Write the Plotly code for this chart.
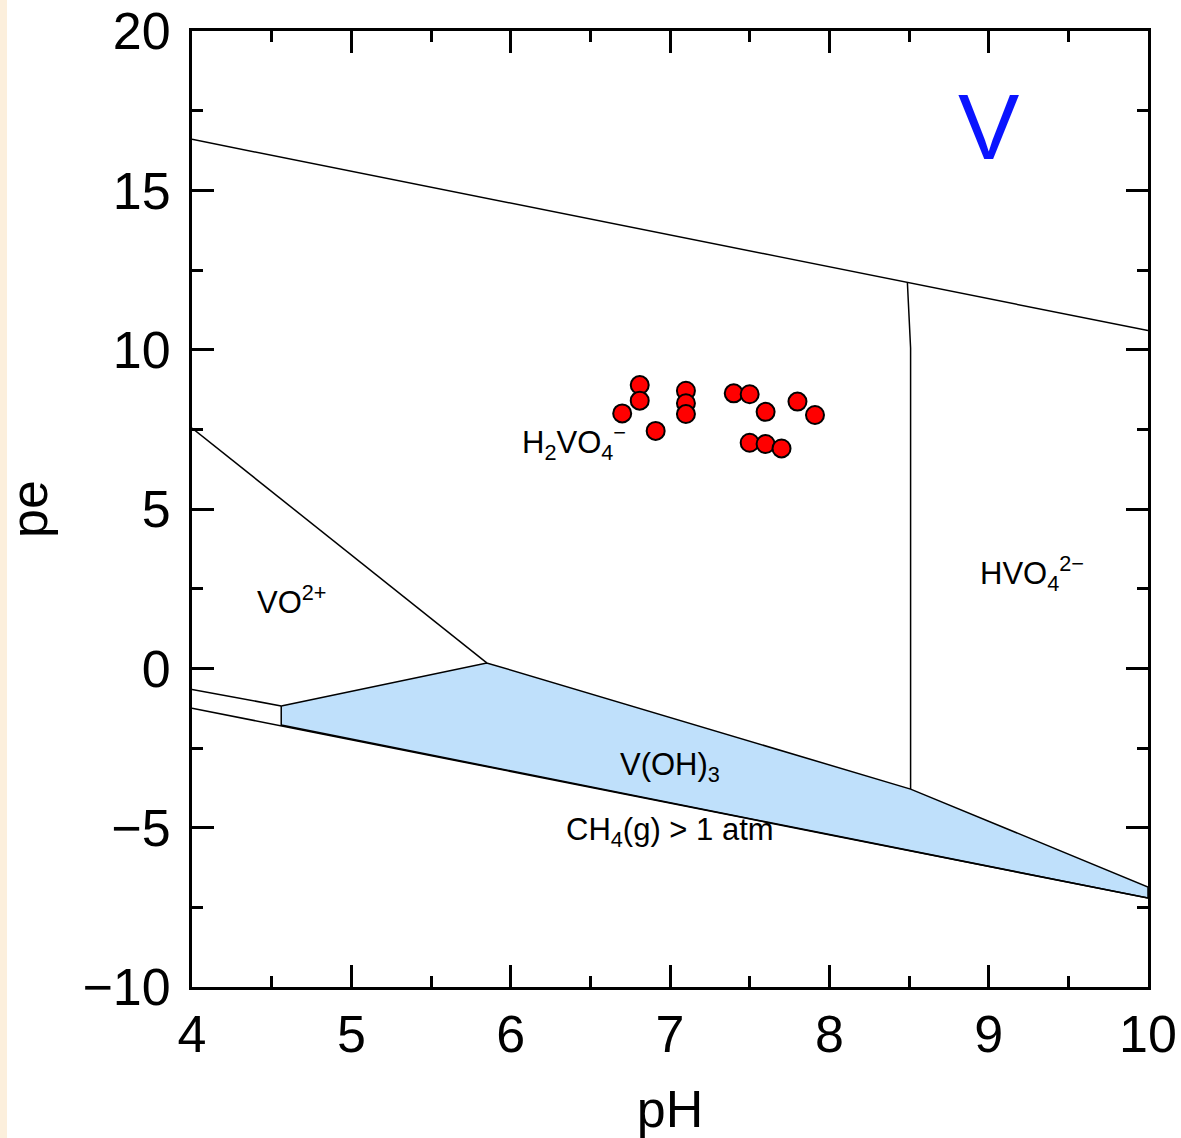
import plotly.graph_objects as go

# Sample measurements (pH, pe)
sample_ph = [6.81, 6.81, 6.70, 6.91, 7.10, 7.10, 7.10, 7.40, 7.50, 7.60, 7.80, 7.91, 7.50, 7.60, 7.70]
sample_pe = [8.89, 8.40, 8.00, 7.45, 8.71, 8.32, 7.98, 8.63, 8.60, 8.05, 8.37, 7.95, 7.08, 7.04, 6.90]

# Water stability limits
o2_ph = [4.0, 10.0]
o2_pe = [16.6, 10.6]
h2_ph = [4.0, 10.0]
h2_pe = [-1.25, -7.21]

# Species boundaries
vo2_ph = [4.0, 5.85]
vo2_pe = [7.54, 0.17]
hvo4_ph = [8.49, 8.51, 8.51]
hvo4_pe = [12.09, 10.05, -3.79]
left_ph = [4.0, 4.56]
left_pe = [-0.66, -1.18]

# V(OH)3 stability field
voh3_ph = [4.56, 5.85, 8.51, 10.0, 10.0, 4.56, 4.56]
voh3_pe = [-1.18, 0.17, -3.79, -6.86, -7.21, -1.78, -1.18]

FONT = "Liberation Sans, Arial, Helvetica, sans-serif"
line_style = dict(color="black", width=1.5)

fig = go.Figure()

fig.add_trace(go.Scatter(x=voh3_ph, y=voh3_pe, mode="lines", fill="toself",
                         fillcolor="#bfe0fb", line=line_style, hoverinfo="skip"))
for xs, ys in [(o2_ph, o2_pe), (h2_ph, h2_pe), (vo2_ph, vo2_pe),
               (hvo4_ph, hvo4_pe), (left_ph, left_pe)]:
    fig.add_trace(go.Scatter(x=xs, y=ys, mode="lines", line=line_style, hoverinfo="skip"))

fig.add_trace(go.Scatter(x=sample_ph, y=sample_pe, mode="markers",
                         marker=dict(size=18, color="#ff0000",
                                     line=dict(color="black", width=2))))

labels = [
    (6.40, 7.1, "H<sub>2</sub>VO<sub>4</sub><sup>−</sup>", 31, "black"),
    (4.63, 2.15, "VO<sup>2+</sup>", 31, "black"),
    (9.27, 2.99, "HVO<sub>4</sub><sup>2−</sup>", 31, "black"),
    (7.0, -3.1, "V(OH)<sub>3</sub>", 31, "black"),
    (7.0, -5.13, "CH<sub>4</sub>(g) > 1 atm", 31, "black"),
    (9.0, 17.0, "V", 92, "#0a14ff"),
]
for x, y, t, s, c in labels:
    fig.add_annotation(x=x, y=y, text=t, showarrow=False,
                       font=dict(family=FONT, size=s, color=c))

# soft tinted strip along the left edge of the page
fig.add_shape(type="rect", xref="paper", yref="paper",
              x0=-192 / 956, x1=(7 - 192) / 956, y0=-151 / 956, y1=(956 + 31) / 956,
              fillcolor="#fcefdc", line=dict(width=0), layer="below")

axis_common = dict(
    showline=True, linewidth=3, linecolor="black", mirror="allticks",
    ticks="inside", ticklen=22, tickwidth=3, tickcolor="black",
    showgrid=False, zeroline=False, automargin=False,
    tickfont=dict(family=FONT, size=52, color="black"),
)

fig.update_xaxes(range=[4, 10], tick0=4, dtick=1, ticklabelstandoff=0,
                 minor=dict(ticks="inside", ticklen=11, tickwidth=3, dtick=0.5, tickcolor="black", showgrid=False),
                 title=dict(text="pH", font=dict(family=FONT, size=52, color="black"), standoff=30),
                 **axis_common)
fig.update_yaxes(range=[-10, 20], tick0=-10, dtick=5, ticklabelstandoff=8,
                 minor=dict(ticks="inside", ticklen=11, tickwidth=3, dtick=2.5, tickcolor="black", showgrid=False),
                 title=dict(text="pe", font=dict(family=FONT, size=52, color="black"), standoff=28),
                 **axis_common)

fig.update_layout(
    width=1181, height=1138,
    margin=dict(l=192, r=33, t=31, b=151),
    paper_bgcolor="white", plot_bgcolor="white",
    showlegend=False,
)

fig.write_html("out.html")
